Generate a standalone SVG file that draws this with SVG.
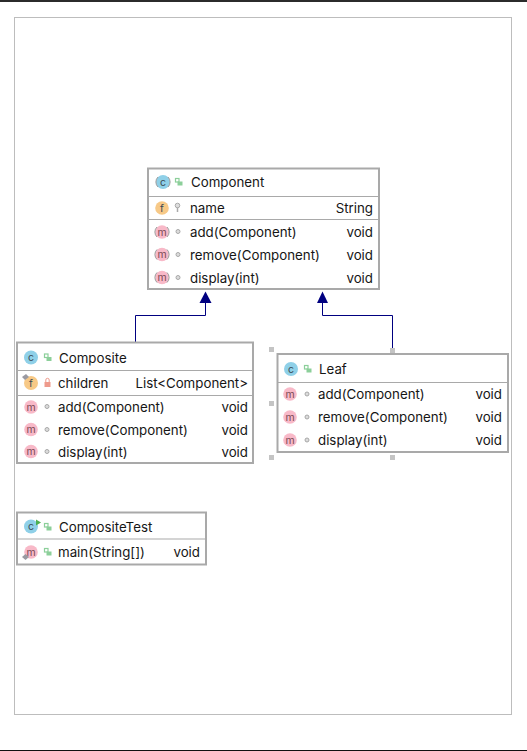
<svg xmlns="http://www.w3.org/2000/svg" width="527" height="751" viewBox="0 0 527 751">
<style>
text{font-family:"Inter","Liberation Sans",sans-serif;font-size:13.3px;fill:#161616}
.r{text-anchor:end}
.box{fill:#fff;stroke:#a9a9a9;stroke-width:2}
.div{stroke:#a9a9a9;stroke-width:1.2}
.link{fill:none;stroke:#000080;stroke-width:1}
.head{fill:#000080}
.h{fill:#c4c4c4}
.ic{fill:#8fd0e8}.im{fill:#f8b9c8}.if{fill:#f7c987}
.g{font-size:10.500px;text-anchor:middle;fill:#3a4a55}
.g2{font-size:10.500px;text-anchor:middle;fill:#7a4a55}
.dot{fill:#dcdcdc;stroke:#a8a8a8;stroke-width:1}
.lock{fill:#8ccf9a}
.lockr{fill:#ee9a8c}
.abs{fill:none;stroke:#9a9a9a;stroke-width:1}
.ov{fill:#9a9aa2}
</style>
<defs>
<g id="lk"><rect x="-3.500" y="-3.500" width="3.500" height="3.500" fill="none" stroke="#8ccf9a" stroke-width="1.200"/><rect x="-1.500" y="-0.500" width="5" height="4" class="lock"/></g>
<g id="cls"><circle r="7" class="ic"/><text y="3.500" class="g">c</text></g>
<g id="mth"><circle r="6.800" class="im"/><text y="3.500" class="g2">m</text></g>
<circle id="pk" r="2" class="dot"/>
<path id="ar" class="abs" d="M-5 -5A7 7 0 0 0 -5 5M5 -5A7 7 0 0 1 5 5"/>
</defs>
<rect width="527" height="751" fill="#fff"/>
<rect width="527" height="2" fill="#2b2b2b"/>
<rect y="750" width="527" height="1" fill="#111"/>
<rect x="14.500" y="17.500" width="497" height="697" fill="#fff" stroke="#bdbdbd" stroke-width="1"/>
<g id="connectors">
<path class="link" d="M135.500 342V315.500H205.500V297"/>
<path class="head" d="M205.500 291.500L211.500 303H199.500Z"/>
<path class="link" d="M392.500 354V315.500H322.500V297"/>
<path class="head" d="M322.500 291.500L328 303H317Z"/>
</g>
<g id="Component">
<rect class="box" x="148" y="168.500" width="231" height="120.500"/>
<path class="div" d="M149 196.500H378M149 219.500H378"/>
<use href="#cls" x="163" y="182"/><use href="#ar" x="163" y="182"/><use href="#lk" x="179" y="182"/>
<text x="191" y="187">Component</text>
<circle cx="162" cy="208" r="6.800" class="if"/><text x="162" y="211.500" class="g">f</text>
<path d="M177.500 205.500V212" stroke="#aaa" stroke-width="1.500"/><circle cx="177.500" cy="205.500" r="2.300" fill="#ddd" stroke="#aaa"/>
<text x="190" y="213">name</text><text x="373" y="213" class="r">String</text>
<use href="#mth" x="162" y="232"/><use href="#ar" x="162" y="232"/><use href="#pk" x="178" y="231.500"/>
<text x="190" y="236.500">add(Component)</text><text x="373" y="236.500" class="r">void</text>
<use href="#mth" x="162" y="254.500"/><use href="#ar" x="162" y="254.500"/><use href="#pk" x="178" y="254.500"/>
<text x="190" y="259.500">remove(Component)</text><text x="373" y="259.500" class="r">void</text>
<use href="#mth" x="162" y="277.500"/><use href="#ar" x="162" y="277.500"/><use href="#pk" x="178" y="277.500"/>
<text x="190" y="282.500">display(int)</text><text x="373" y="282.500" class="r">void</text>
</g>
<g id="Composite">
<rect class="box" x="17" y="342.500" width="236" height="120.500"/>
<path class="div" d="M18 370.500H252M18 395.500H252"/>
<use href="#cls" x="31" y="357.500"/><use href="#lk" x="48" y="357.500"/>
<text x="59" y="362.500">Composite</text>
<circle cx="31" cy="383" r="7" class="if"/><text x="31" y="386.500" class="g">f</text>
<path class="ov" d="M22 377L26 374L29 377L25 380Z"/>
<rect x="44.500" y="382" width="6" height="5" class="lockr"/><path d="M45.800 382V380a1.700 1.700 0 0 1 3.400 0V382" fill="none" stroke="#ee9a8c"/>
<text x="58" y="388">children</text><text x="248" y="388" class="r">List&lt;Component&gt;</text>
<use href="#mth" x="31" y="407"/><use href="#pk" x="47" y="406.500"/>
<text x="58" y="411.500">add(Component)</text><text x="248" y="411.500" class="r">void</text>
<use href="#mth" x="31" y="429.500"/><use href="#pk" x="47" y="429.500"/>
<text x="58" y="434.500">remove(Component)</text><text x="248" y="434.500" class="r">void</text>
<use href="#mth" x="31" y="451.500"/><use href="#pk" x="47" y="451.500"/>
<text x="58" y="456.500">display(int)</text><text x="248" y="456.500" class="r">void</text>
</g>
<g id="Leaf">
<rect class="box" x="277.500" y="354" width="230.500" height="98"/>
<path class="div" d="M278 382.500H507"/>
<use href="#cls" x="291" y="369"/><use href="#lk" x="308" y="369"/>
<text x="319" y="374">Leaf</text>
<use href="#mth" x="290" y="394"/><use href="#pk" x="307" y="394"/>
<text x="318" y="399">add(Component)</text><text x="502" y="399" class="r">void</text>
<use href="#mth" x="290" y="417"/><use href="#pk" x="307" y="417"/>
<text x="318" y="422">remove(Component)</text><text x="502" y="422" class="r">void</text>
<use href="#mth" x="290" y="440"/><use href="#pk" x="307" y="440"/>
<text x="318" y="445">display(int)</text><text x="502" y="445" class="r">void</text>
</g>
<g id="selection-handles">
<rect class="h" x="269" y="347" width="5" height="5"/>
<rect class="h" x="390" y="348" width="5" height="5"/>
<rect class="h" x="269" y="401" width="5" height="5"/>
<rect class="h" x="269" y="455" width="5" height="5"/>
<rect class="h" x="390" y="455" width="5" height="5"/>
</g>
<g id="CompositeTest">
<rect class="box" x="17" y="512.500" width="189" height="52"/>
<path class="div" d="M18 539H205"/>
<use href="#cls" x="31" y="526.500"/><path d="M36 519.500L41 522.500L36 525.500Z" fill="#4caf50"/><use href="#lk" x="48" y="527"/>
<text x="59" y="531.500">CompositeTest</text>
<use href="#mth" x="31" y="552"/><path class="ov" d="M22 557L25.500 554L29 557L25.500 560Z"/><use href="#lk" x="48" y="552"/>
<text x="58" y="557">main(String[])</text><text x="200" y="557" class="r">void</text>
</g>
</svg>
